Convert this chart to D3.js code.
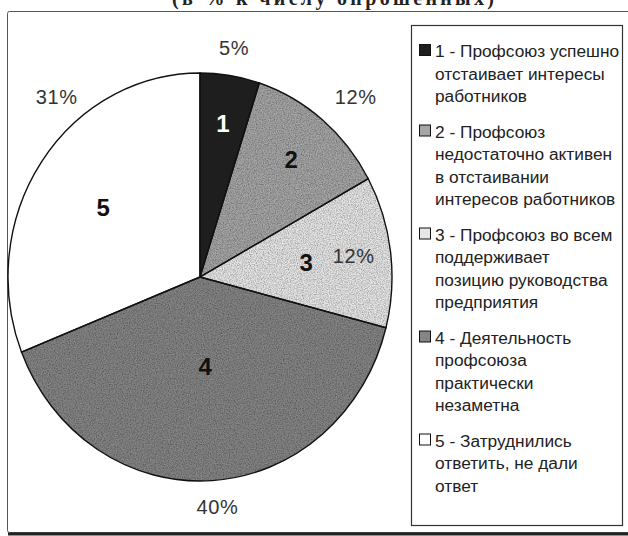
<!DOCTYPE html>
<html>
<head>
<meta charset="utf-8">
<script src="https://cdn.jsdelivr.net/npm/d3@7/dist/d3.min.js"></script>
<style>
  html, body { margin: 0; padding: 0; background: #fff; }
  svg { display: block; }
  .pct { font-family: "Liberation Sans", Arial, sans-serif; font-size: 20px; fill: #333; letter-spacing: 0.6px; }
  .num { font-family: "Liberation Sans", Arial, sans-serif; font-size: 24px; font-weight: bold; }
  .leg { font-family: "Liberation Sans", Arial, sans-serif; font-size: 17.3px; fill: #222; }
</style>
</head>
<body>
<div class="svg-container"></div>
<script>
// data
var categories = ['1', '2', '3', '4', '5'];
var values = [5, 12, 12, 40, 31];
var pctLabels = ['5%', '12%', '12%', '40%', '31%'];
var legendLines = [
  ['1 - Профсоюз успешно', 'отстаивает интересы', 'работников'],
  ['2 - Профсоюз', 'недостаточно активен', 'в отстаивании', 'интересов работников'],
  ['3 - Профсоюз во всем', 'поддерживает', 'позицию руководства', 'предприятия'],
  ['4 - Деятельность', 'профсоюза', 'практически', 'незаметна'],
  ['5 - Затруднились', 'ответить, не дали', 'ответ']
];
var title = '(в % к числу опрошенных)';

// styling / layout
var fills = ['#1e1e1e', '#a6a6a6', '#e6e6e6', '#858585', '#ffffff'];
var grainy = [false, true, true, true, false];
var numColor = ['#fff', '#111', '#111', '#111', '#111'];
var pctPos = [{r: 218, da: 0}, {r: 230, da: 3}, {r: 155, da: 0}, {r: 217, da: -1}, {r: 222, da: 15.6}];
var numR = [146, 143, 107, 84, 117];

var width = 628, height = 536;
var cx = 200, cy = 277, rx = 192, ry = 204;
var sy = ry / rx;

var svg = d3.select('.svg-container').append('svg')
    .attr('width', width)
    .attr('height', height);

// light print grain for the grey slices
var filter = svg.append('defs').append('filter')
    .attr('id', 'grain')
    .attr('x', 0).attr('y', 0).attr('width', 1).attr('height', 1);
filter.append('feTurbulence')
    .attr('type', 'fractalNoise')
    .attr('baseFrequency', 0.85)
    .attr('numOctaves', 2)
    .attr('seed', 3)
    .attr('result', 'noise');
filter.append('feColorMatrix')
    .attr('in', 'noise')
    .attr('type', 'matrix')
    .attr('values', '0 0 0 0 0  0 0 0 0 0  0 0 0 0 0  0 0 0 -1.1 0.75')
    .attr('result', 'dots');
filter.append('feComposite')
    .attr('in', 'dots').attr('in2', 'SourceGraphic')
    .attr('operator', 'in')
    .attr('result', 'clipped');
filter.append('feMerge').selectAll('feMergeNode')
    .data(['SourceGraphic', 'clipped'])
    .enter().append('feMergeNode')
    .attr('in', function(d) { return d; });

// outer frame (right side runs off the picture)
svg.append('rect')
    .attr('x', 7.5).attr('y', 11.5)
    .attr('width', 660).attr('height', 521)
    .attr('rx', 2)
    .attr('fill', 'none').attr('stroke', '#555').attr('stroke-width', 1);
svg.append('line')
    .attr('x1', 8).attr('x2', 628).attr('y1', 534).attr('y2', 534)
    .attr('stroke', '#222').attr('stroke-width', 3);

// title, mostly cut off at the top
svg.append('text')
    .attr('x', 333).attr('y', 5)
    .attr('text-anchor', 'middle')
    .attr('textLength', 322)
    .attr('font-family', '"Liberation Serif", serif')
    .attr('font-weight', 'bold')
    .attr('font-size', 20)
    .attr('fill', '#222')
    .text(title);

var pie = d3.pie().sort(null).value(function(d) { return d; });
var arcs = pie(values);
var arc = d3.arc().innerRadius(0).outerRadius(rx);

var g = svg.append('g').attr('transform', 'translate(' + cx + ',' + cy + ') scale(1,' + sy + ')');

g.selectAll('path')
    .data(arcs)
    .enter().append('path')
    .attr('d', arc)
    .attr('fill', function(d, i) { return fills[i]; })
    .attr('filter', function(d, i) { return grainy[i] ? 'url(#grain)' : null; });

// outlines drawn on top so the grain does not soften them
g.selectAll('.edge')
    .data(arcs)
    .enter().append('path')
    .attr('class', 'edge')
    .attr('d', arc)
    .attr('fill', 'none')
    .attr('stroke', '#111')
    .attr('stroke-width', 1.4)
    .attr('vector-effect', 'non-scaling-stroke');

function polar(angle, r) {
  return [cx + r * Math.sin(angle), cy - r * Math.cos(angle) * sy];
}

function mid(d) { return (d.startAngle + d.endAngle) / 2; }

// big numbers inside the slices
svg.selectAll('.num')
    .data(arcs)
    .enter().append('text')
    .attr('class', 'num')
    .attr('text-anchor', 'middle')
    .attr('dominant-baseline', 'central')
    .attr('fill', function(d, i) { return numColor[i]; })
    .attr('transform', function(d, i) {
      var p = polar(mid(d), numR[i]);
      return 'translate(' + p[0] + ',' + p[1] + ')';
    })
    .text(function(d, i) { return categories[i]; });

// percent labels
svg.selectAll('.pct')
    .data(arcs)
    .enter().append('text')
    .attr('class', 'pct')
    .attr('text-anchor', 'middle')
    .attr('dominant-baseline', 'central')
    .attr('transform', function(d, i) {
      var p = polar(mid(d) + pctPos[i].da * Math.PI / 180, pctPos[i].r);
      return 'translate(' + p[0] + ',' + p[1] + ')';
    })
    .text(function(d, i) { return pctLabels[i]; });

// legend
var legend = svg.append('g').attr('class', 'legend');
legend.append('rect')
    .attr('x', 411.5).attr('y', 25.5)
    .attr('width', 211).attr('height', 500)
    .attr('fill', '#fff').attr('stroke', '#333').attr('stroke-width', 1.2);

var lineH = 22.5, gap = 13, y0 = 57;
var entryY = [];
legendLines.reduce(function(y, lines) {
  entryY.push(y);
  return y + lines.length * lineH + gap;
}, y0);

var entry = legend.selectAll('.entry')
    .data(legendLines)
    .enter().append('g')
    .attr('class', 'entry')
    .attr('transform', function(d, i) { return 'translate(0,' + entryY[i] + ')'; });

entry.append('rect')
    .attr('x', 419.5).attr('y', -12.5)
    .attr('width', 11).attr('height', 11)
    .attr('fill', function(d, i) { return fills[i]; })
    .attr('stroke', '#111').attr('stroke-width', 1);

entry.append('text')
    .attr('class', 'leg')
    .selectAll('tspan')
    .data(function(d) { return d; })
    .enter().append('tspan')
    .attr('x', 435)
    .attr('y', function(d, j) { return j * lineH; })
    .text(function(d) { return d; });
</script>
</body>
</html>
